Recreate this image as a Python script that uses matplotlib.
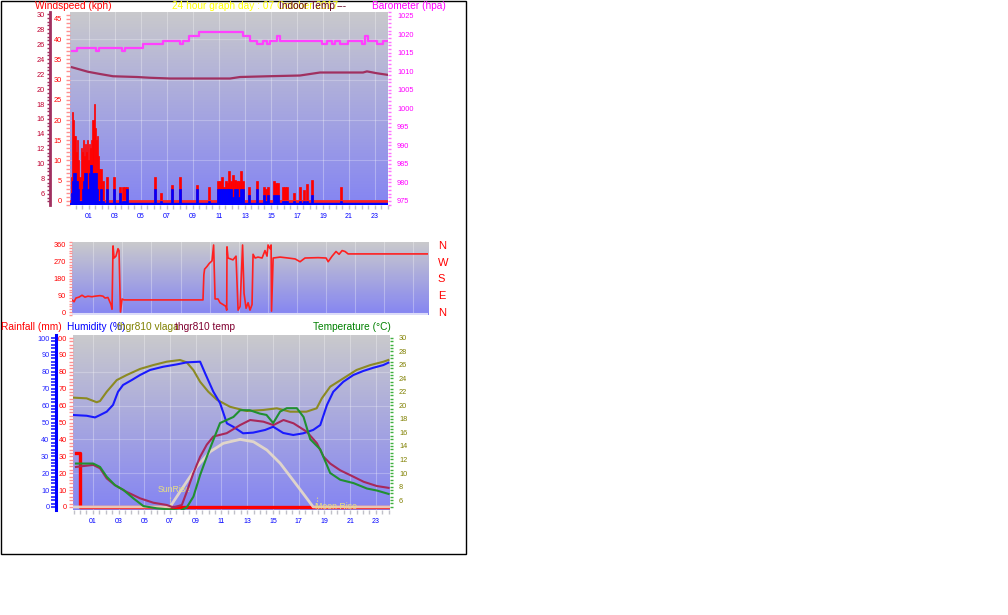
import numpy as np
import matplotlib
matplotlib.use("Agg")
import matplotlib.pyplot as plt
from matplotlib.ticker import MultipleLocator
from matplotlib.patches import Rectangle

plt.rcParams['font.family'] = ['Liberation Sans', 'DejaVu Sans']

W, H = 1008, 615

# ---- x axis (hours of the day) ----
hour_ticks = [1, 3, 5, 7, 9, 11, 13, 15, 17, 19, 21, 23]
hour_labels = ["01", "03", "05", "07", "09", "11", "13", "15", "17", "19", "21", "23"]

# ---- top panel: wind (kph), gusts red / average blue ----
wind_early_t = [-0.40, -0.32, -0.23, -0.15, -0.07, 0.02, 0.10, 0.18, 0.27, 0.35,
                0.43, 0.52, 0.60, 0.68, 0.77, 0.85, 0.93, 1.02, 1.10, 1.18,
                1.27, 1.35, 1.43, 1.52, 1.60, 1.68, 1.77]
wind_early_gust = [6, 22, 20, 16, 16, 12, 15, 10, 6, 13, 12, 15, 11, 14, 12, 15,
                   10, 14, 13, 15, 20, 24, 18, 15, 16, 11, 8]
wind_early_avg = [2, 5, 7, 7, 7, 5, 5, 3, 0, 0, 3, 5, 7, 7, 7, 3, 3, 7, 9, 9,
                  7, 7, 7, 7, 3, 0, 0]

wind_ev_t = [1.92, 2.08, 2.35, 2.92, 3.38, 3.65, 3.77, 3.92, 6.08, 6.54, 7.38, 8.0,
             9.31, 10.23, 10.96, 11.08, 11.23, 11.38, 11.54, 11.69, 11.77, 11.92,
             12.08, 12.23, 12.38, 12.54, 12.69, 12.85, 13.31, 13.92, 14.46, 14.62,
             14.77, 15.23, 15.38, 15.54, 15.92, 16.08, 16.23, 16.77, 17.23, 17.54,
             17.77, 18.15, 20.38]
wind_ev_gust = [8, 5, 6, 6, 3.5, 3.5, 3.5, 3.5, 6, 2, 4, 6,
                4, 3.5, 5, 5, 6, 3.5, 5, 4.5, 7.3, 5,
                6.4, 5.2, 5, 5, 7.3, 5, 3.5, 5, 3.5, 3,
                3.5, 5, 4.5, 4.5, 3.5, 3.5, 3.5, 2, 3.5, 2.7,
                4.3, 5.2, 3.5]
wind_ev_avg = [3, 0, 3, 3, 2, 0, 0, 3, 3, 0, 3, 3,
               3, 0, 3, 3, 3, 3, 3, 3, 3, 3,
               1, 3, 3, 1, 3, 3, 1.5, 3, 1.5, 0,
               1.5, 1.5, 1.5, 1.5, 0, 0, 0, 0, 0, 0,
               0, 1.5, 0]

# barometer (hpa), step series
baro_t = [-0.31, 0.08, 1.54, 1.77, 3.54, 3.77, 5.15, 6.69, 8.0, 8.23, 8.69, 9.46,
          12.85, 13.38, 13.92, 14.38, 14.69, 14.92, 15.46, 15.69, 18.92, 19.31,
          19.69, 19.92, 20.31, 20.92, 22.0, 22.23, 22.46, 23.15, 23.62, 24.0]
baro_v = [1015.4, 1016.4, 1015.4, 1016.4, 1015.4, 1016.4, 1017.3, 1018.3, 1017.3,
          1018.3, 1019.4, 1020.5, 1019.4, 1018.3, 1017.3, 1018.3, 1017.3, 1018.3,
          1019.4, 1018.3, 1017.3, 1018.3, 1017.3, 1018.3, 1017.3, 1018.3, 1017.3,
          1019.4, 1018.3, 1017.3, 1018.3, 1018.3]

# indoor temperature (C)
indoor_t = [-0.31, 0.31, 0.92, 1.85, 2.85, 4.69, 5.69, 7.23, 11.85, 12.62, 14.77,
            17.23, 18.0, 18.77, 22.08, 22.38, 23.15, 23.92]
indoor_v = [22.9, 22.6, 22.3, 22.0, 21.7, 21.6, 21.5, 21.4, 21.4, 21.6, 21.7,
            21.8, 22.0, 22.2, 22.2, 22.35, 22.1, 21.9]

# ---- middle panel: wind direction (deg) ----
dir_t = [-0.46, -0.32, -0.19, 0.02, 0.23, 0.43, 0.64, 0.91, 1.12, 1.46, 1.67, 1.81,
         2.01, 2.22, 2.29, 2.36, 2.43, 2.56, 2.70, 2.77, 2.87, 2.98, 3.11, 8.54,
         8.60, 8.65, 8.82, 8.96, 9.16, 9.27, 9.37, 9.57, 9.71, 9.92, 10.12, 10.17,
         10.19, 10.26, 10.6, 10.81, 10.95, 11.09, 11.26, 11.36, 11.5, 11.64, 11.77,
         11.91, 11.98, 12.12, 12.32, 12.6, 12.8, 12.94, 13.01, 13.15, 13.22, 13.25,
         13.36, 13.84, 14.39, 14.87, 15.21, 15.55, 16.45, 17.0, 17.14, 17.41, 17.68,
         17.89, 18.1, 18.3, 18.51, 24.0]
dir_v = [65, 55, 75, 80, 90, 80, 85, 82, 85, 88, 85, 75,
         78, 40, 15, 355, 290, 300, 340, 330, 0, 70, 65, 65,
         200, 230, 245, 260, 275, 360, 70, 70, 50, 40, 30, 10,
         350, 290, 280, 300, 10, 30, 360, 100, 20, 50, 10,
         40, 310, 290, 295, 290, 330, 300, 360, 340, 360, 5,
         290, 295, 290, 285, 270, 290, 292, 290, 270, 300, 325,
         310, 330, 325, 312, 312]
dir_names = ["N", "W", "S", "E", "N"]

# ---- bottom panel ----
hum_t = [-0.47, 0.52, 1.17, 1.56, 2.08, 2.57, 2.96, 3.35, 4.02, 4.67, 5.45, 6.46,
         7.53, 8.3, 9.34, 9.73, 10.37, 10.89, 11.42, 11.91, 12.68, 13.46, 14.4,
         15.02, 15.8, 16.58, 17.35, 18.13, 18.68, 19.2, 19.69, 20.47, 21.25, 22.02,
         22.8, 23.58, 23.97]
hum_v = [54.4, 54.0, 53.0, 54.4, 56.4, 60.4, 68.2, 72.2, 75.1, 78.1, 81.1, 83.0,
         84.4, 85.6, 86.0, 79.1, 68.2, 61.5, 49.5, 47.5, 43.6, 44.0, 45.6,
         47.5, 43.8, 42.6, 43.6, 45.6, 48.5, 60.4, 68.2, 74.1, 78.1, 80.5,
         82.4, 84.0, 85.4]

vlaga_t = [-0.47, 0.52, 1.3, 1.56, 2.08, 2.86, 3.63, 4.67, 5.7, 6.75, 7.78, 8.3,
           8.82, 9.34, 9.98, 10.64, 11.67, 12.95, 14.24, 15.3, 16.34, 17.6, 18.4,
           18.8, 19.45, 20.49, 21.5, 22.57, 23.6, 23.97]
vlaga_v = [64.7, 64.3, 62.0, 62.7, 68.2, 75.1, 78.1, 81.7, 84.0, 86.0, 87.0, 85.6,
           81.0, 74.1, 68.2, 63.5, 59.3, 56.8, 57.4, 58.4, 56.4, 56.4, 58.4,
           64.3, 71.2, 76.2, 81.1, 84.0, 86.0, 87.0]

t810_t = [-0.31, 1.03, 1.56, 2.08, 2.72, 3.63, 4.67, 5.7, 6.75, 7.27, 7.92, 8.3,
          8.82, 9.34, 9.86, 10.37, 11.41, 12.45, 13.23, 14.26, 15.04, 15.82, 16.6,
          17.64, 18.42, 18.94, 19.45, 20.23, 21.26, 22.05, 23.08, 23.99]
t810_v = [10.9, 11.2, 10.7, 9.2, 8.2, 7.2, 6.25, 5.6, 5.26, 4.9, 5.26, 7.2,
          10.0, 12.4, 14.2, 15.4, 15.9, 17.1, 17.85, 17.6, 17.1, 17.85, 17.36,
          16.1, 14.4, 12.4, 11.4, 10.4, 9.45, 8.7, 8.07, 7.8]

temp_t = [-0.31, 1.03, 1.56, 2.08, 2.72, 3.37, 4.15, 4.93, 5.97, 7.0, 7.78, 8.3,
          8.82, 9.34, 9.86, 10.37, 10.89, 11.93, 12.45, 13.2, 13.98, 14.5, 15.02,
          15.56, 16.08, 16.86, 17.38, 17.9, 18.68, 19.45, 20.23, 21.27, 22.31, 23.09,
          23.99]
temp_v = [11.4, 11.4, 10.9, 9.45, 8.2, 7.5, 6.25, 5.1, 4.77, 4.6, 4.4, 4.9,
          6.5, 9.7, 12.4, 14.9, 17.4, 18.3, 19.3, 19.3, 18.8, 18.6, 17.4,
          19.1, 19.6, 19.6, 18.3, 15.0, 13.5, 10.0, 9.0, 8.5, 7.7, 7.4,
          6.9]

sun_t = [-0.54, 7.0, 8.04, 9.08, 10.12, 11.15, 12.45, 13.49, 14.53, 15.56, 16.6,
         17.64, 18.13, 24.1]
sun_v = [0, 0, 12, 23.8, 32.7, 37.7, 40, 38.6, 33.7, 25.9, 15.5, 5, 0, 0]

rain_t = [-0.3, 0.0, 0.0, 24.1]
rain_v = [32, 32, 0, 0]


def px_rect(x0, y0, x1, y1):
    return [x0 / W, 1 - y1 / H, (x1 - x0) / W, (y1 - y0) / H]


def gradient(ax, top=(0.79, 0.79, 0.80), bottom=(0.52, 0.52, 0.95)):
    g = np.linspace(0, 1, 256)[:, None, None]
    img = np.array(top)[None, None, :] + (np.array(bottom) - np.array(top))[None, None, :] * g
    x0, x1 = ax.get_xlim()
    y0, y1 = ax.get_ylim()
    ax.imshow(img, extent=[x0, x1, y0, y1], aspect='auto', origin='upper', zorder=0)
    ax.set_xlim(x0, x1)
    ax.set_ylim(y0, y1)


def hide_spines(ax):
    for s in ax.spines.values():
        s.set_visible(False)


def hour_axis(ax):
    ax.set_xticks(hour_ticks)
    ax.set_xticklabels(hour_labels)
    ax.xaxis.set_minor_locator(MultipleLocator(0.5))
    ax.tick_params(axis='x', which='both', colors='#c0c0c8', labelcolor='#0000ff',
                   length=3, width=1, labelsize=5, pad=3)


def vgrid(ax):
    for h in hour_ticks:
        ax.axvline(h, color='white', lw=0.8, alpha=0.3, zorder=1)


fig = plt.figure(figsize=(W / 100, H / 100), dpi=100)

# ================= TOP PANEL =================
ax_t = fig.add_axes(px_rect(70, 12, 388, 205))
ax_t.set_xlim(-0.46, 24.0)
ax_t.set_ylim(-1.0, 46.7)
gradient(ax_t)
hide_spines(ax_t)
vgrid(ax_t)
for v in [10, 20, 30, 40]:
    ax_t.axhline(v, color='white', lw=0.8, alpha=0.25, zorder=1)
hour_axis(ax_t)
ax_t.set_yticks(range(0, 50, 5))
ax_t.yaxis.set_minor_locator(MultipleLocator(1))
ax_t.tick_params(axis='y', which='both', colors='#ff9090', labelcolor='#ff0000',
                 length=3, width=1, labelsize=5.3, pad=3)

ax_t.bar(wind_early_t, wind_early_gust, width=0.085, align='edge', color='#ff0000',
         edgecolor='#ff0000', linewidth=0.5, zorder=2)
ax_t.bar(wind_ev_t, wind_ev_gust, width=0.15, color='#ff0000', edgecolor='#ff0000',
         linewidth=0.5, zorder=2)
ax_t.axhline(0, color='#ff2020', lw=2, zorder=2)
ax_t.bar(wind_early_t, [a + 1 for a in wind_early_avg], bottom=-1, width=0.085,
         align='edge', color='#0000ff', edgecolor='#0000ff', linewidth=0.5, zorder=3)
ax_t.bar(wind_ev_t, [a + 1 for a in wind_ev_avg], bottom=-1, width=0.15,
         color='#0000ff', edgecolor='#0000ff', linewidth=0.5, zorder=3)
ax_t.axhspan(-1, -0.45, color='#0000ff', zorder=3)

# indoor temperature axis (outer left)
ax_in = ax_t.twinx()
hide_spines(ax_in)
ax_in.yaxis.tick_left()
ax_in.spines['left'].set_visible(True)
ax_in.spines['left'].set_position(('outward', 14.4))
ax_in.spines['left'].set_color('#a03060')
ax_in.spines['left'].set_linewidth(2)
ax_in.set_ylim(4.53, 30.27)
ax_in.set_yticks(range(6, 31, 2))
ax_in.yaxis.set_minor_locator(MultipleLocator(0.5))
ax_in.tick_params(axis='y', which='both', colors='#a03060', labelcolor='#c00030',
                  length=2.5, width=1, labelsize=5.3, pad=1.5)
ax_in.plot(indoor_t, indoor_v, color='#a03060', lw=1.6)

# barometer axis (right)
ax_b = ax_t.twinx()
hide_spines(ax_b)
ax_b.set_ylim(973.9, 1026.0)
ax_b.set_yticks(range(975, 1026, 5))
ax_b.yaxis.set_minor_locator(MultipleLocator(1))
ax_b.tick_params(axis='y', which='both', colors='#ff70ff', labelcolor='#ff00ff',
                 length=2.5, width=1, labelsize=5.3, pad=4)
ax_b.step(baro_t, baro_v, where='post', color='#ff40ff', lw=1.6)

# ================= MIDDLE PANEL =================
ax_d = fig.add_axes(px_rect(72, 242, 428, 315))
ax_d.set_xlim(-0.46, 24.0)
ax_d.set_ylim(-16, 376)
gradient(ax_d)
hide_spines(ax_d)
vgrid(ax_d)
ax_d.set_xticks([])
ax_d.set_yticks([0, 90, 180, 270, 360])
ax_d.yaxis.set_minor_locator(MultipleLocator(15))
ax_d.tick_params(axis='y', which='both', colors='#ff9090', labelcolor='#ff0000',
                 length=2.5, width=1, labelsize=5.3, pad=2)
ax_d.axhline(-11, color='#dcdcf8', lw=1.5, zorder=1)
ax_d.plot(dir_t, dir_v, color='#ff2020', lw=1.2, zorder=3)

ax_dn = ax_d.twinx()
hide_spines(ax_dn)
ax_dn.set_ylim(-16, 376)
ax_dn.set_yticks([360, 270, 180, 90, 0])
ax_dn.set_yticklabels(dir_names)
ax_dn.tick_params(axis='y', length=0, labelcolor='#ff0000', labelsize=8, pad=7)

# ================= BOTTOM PANEL =================
ax_r = fig.add_axes(px_rect(73, 335, 390, 510))
ax_r.set_xlim(-0.54, 24.1)
ax_r.set_ylim(-1.8, 101.8)
gradient(ax_r)
hide_spines(ax_r)
vgrid(ax_r)
for v in [20, 40, 60, 80]:
    ax_r.axhline(v, color='white', lw=0.8, alpha=0.25, zorder=1)
hour_axis(ax_r)
ax_r.set_yticks(range(0, 101, 10))
ax_r.yaxis.set_minor_locator(MultipleLocator(2))
ax_r.tick_params(axis='y', which='both', colors='#ff9090', labelcolor='#ff0000',
                 length=3, width=1, labelsize=5.3, pad=1.5)

ax_r.plot(rain_t, rain_v, color='#ff0000', lw=2.4, zorder=3)
ax_r.plot(sun_t, sun_v, color='#e8dcc8', lw=2.0, alpha=0.9, zorder=3)
ax_r.plot(vlaga_t, vlaga_v, color='#8c8a22', lw=1.5, zorder=4)
ax_r.plot(hum_t, hum_v, color='#1a1aff', lw=1.5, zorder=4)
ax_r.vlines([7.0, 18.4], -1.8, 6, colors='#e8e080', lw=0.8, linestyles=':', zorder=4)
ax_r.text(7.3, 10.6, "SunRise", color='#e8e080', fontsize=6.3, ha='center',
          va='center', zorder=5)
ax_r.text(18.3, 0.5, "Moon Rise", color='#e8e080', fontsize=6.3, ha='left',
          va='center', zorder=5)

# humidity axis (outer left)
ax_hm = ax_r.twinx()
hide_spines(ax_hm)
ax_hm.yaxis.tick_left()
ax_hm.spines['left'].set_visible(True)
ax_hm.spines['left'].set_position(('outward', 12.5))
ax_hm.spines['left'].set_color('#0000ff')
ax_hm.spines['left'].set_linewidth(2.2)
ax_hm.set_ylim(-1.8, 101.8)
ax_hm.set_yticks(range(0, 101, 10))
ax_hm.yaxis.set_minor_locator(MultipleLocator(2))
ax_hm.tick_params(axis='y', which='both', colors='#2020ff', labelcolor='#2020ff',
                  length=3.5, width=1.2, labelsize=5.3, pad=1)

# temperature axis (right)
ax_tp = ax_r.twinx()
hide_spines(ax_tp)
ax_tp.set_ylim(4.52, 30.44)
ax_tp.set_yticks(range(6, 31, 2))
ax_tp.yaxis.set_minor_locator(MultipleLocator(0.5))
ax_tp.tick_params(axis='y', which='both', colors='#40b040', labelcolor='#808000',
                  length=2.5, width=1, labelsize=5.3, pad=4)
ax_tp.plot(t810_t, t810_v, color='#a8285a', lw=1.5, zorder=4)
ax_tp.plot(temp_t, temp_v, color='#209030', lw=1.5, zorder=4)

# ================= titles =================
def ftext(x, y, s, color, size=7.3):
    fig.text(x / W, 1 - y / H, s, color=color, fontsize=size, ha='left', va='center')


ftext(35, 6, "Windspeed (kph)", '#ff0000')
ftext(172, 6, "24 hour graph day : 07 October 2017", '#ffff00')
ftext(279, 6, "Indoor Temp", '#600020')
ftext(337, 6, "---", '#600020')
ftext(372, 6, "Barometer (hpa)", '#ff00ff')
ftext(1, 327, "Rainfall (mm)", '#ff0000')
ftext(67, 327, "Humidity (%)", '#0000ff')
ftext(117, 327, "thgr810 vlaga", '#808000')
ftext(175, 327, "thgr810 temp", '#800030')
ftext(313, 327, "Temperature (°C)", '#008000')

fig.patches.append(Rectangle((0.5 / W, 1 - 554 / H), 465 / W, 553.5 / H,
                             transform=fig.transFigure, fill=False,
                             edgecolor='black', lw=1))

fig.savefig("out.png", dpi=100)
